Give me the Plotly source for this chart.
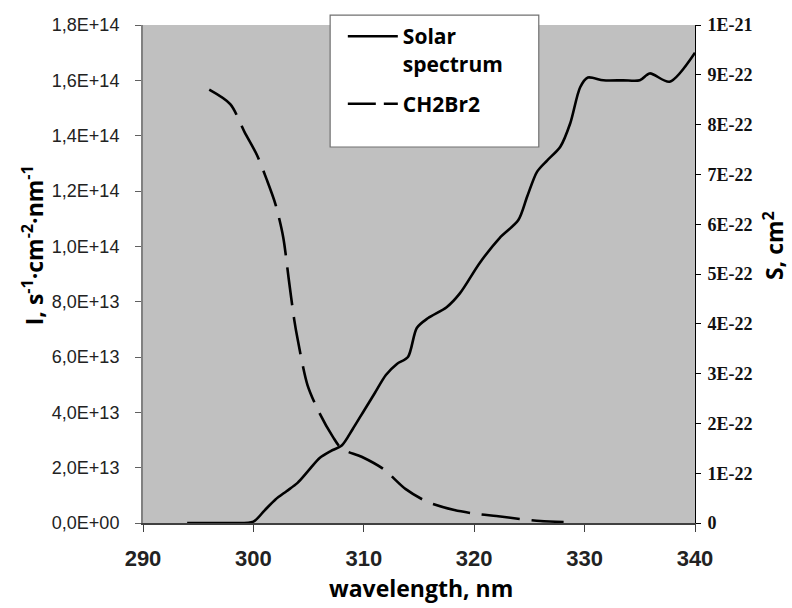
import plotly.graph_objects as go

# Solar spectrum (left axis), photons s^-1 cm^-2 nm^-1
solar_wl = [294, 296, 298, 300, 301, 302, 303, 304, 305, 306, 307, 308, 309, 310, 311, 312,
            313, 314, 314.8, 315.8, 317.5, 318.7, 320.5, 322.3, 324, 324.8, 325.7, 326.6,
            327.8, 328.7, 329.6, 330.3, 331.7, 333.5, 335, 335.9, 337.7, 340]
solar_val = [0, 0, 0, 0.05e13, 0.45e13, 0.85e13, 1.15e13, 1.45e13, 1.9e13, 2.35e13, 2.6e13,
             2.8e13, 3.4e13, 4.05e13, 4.7e13, 5.35e13, 5.75e13, 6.0e13, 7.05e13, 7.4e13,
             7.8e13, 8.3e13, 9.4e13, 10.3e13, 10.95e13, 11.8e13, 12.7e13, 13.1e13, 13.6e13,
             14.45e13, 15.75e13, 16.1e13, 16.0e13, 16.0e13, 16.0e13, 16.25e13, 15.95e13, 17.0e13]

# CH2Br2 absorption cross section (right axis), cm^2
ch2br2_wl = [296.0, 297.9, 299.2, 300.3, 301.2, 302.0, 302.7, 303.2, 303.7, 304.0, 304.9,
             306.0, 307.2, 308.0, 309.8, 311.8, 313.8, 315.8, 318.2, 320.3, 322.0, 324.2,
             326.0, 328.1]
ch2br2_val = [8.7e-22, 8.41e-22, 7.85e-22, 7.4e-22, 6.9e-22, 6.4e-22, 5.74e-22, 4.9e-22,
              4.08e-22, 3.7e-22, 2.77e-22, 2.2e-22, 1.73e-22, 1.49e-22, 1.33e-22, 1.08e-22,
              0.68e-22, 0.42e-22, 0.26e-22, 0.18e-22, 0.14e-22, 0.08e-22, 0.04e-22, 0.02e-22]

x_ticks = [290, 300, 310, 320, 330, 340]
y1_ticks = [0, 2e13, 4e13, 6e13, 8e13, 1e14, 1.2e14, 1.4e14, 1.6e14, 1.8e14]
y1_labels = ["0,0E+00", "2,0E+13", "4,0E+13", "6,0E+13", "8,0E+13", "1,0E+14",
             "1,2E+14", "1,4E+14", "1,6E+14", "1,8E+14"]
y2_ticks = [0, 1e-22, 2e-22, 3e-22, 4e-22, 5e-22, 6e-22, 7e-22, 8e-22, 9e-22, 1e-21]
y2_labels = ["0", "1E-22", "2E-22", "3E-22", "4E-22", "5E-22", "6E-22", "7E-22",
             "8E-22", "9E-22", "1E-21"]

title_font = dict(family="Open Sans", size=23, color="black", weight="bold")

fig = go.Figure()
fig.add_trace(go.Scatter(x=solar_wl, y=solar_val, mode="lines", name="Solar<br>spectrum",
                         legendgroup="a",
                         line=dict(color="black", width=2.6, shape="spline", smoothing=0.8)))
fig.add_trace(go.Scatter(x=ch2br2_wl, y=ch2br2_val, mode="lines", yaxis="y2", showlegend=False,
                         line=dict(color="black", width=2.6, dash="38px,12px", shape="spline",
                                   smoothing=0.8)))
# legend entry for dashed series with shorter dashes (no data points)
fig.add_trace(go.Scatter(x=[None], y=[None], mode="lines", yaxis="y2", name="CH2Br2",
                         legendgroup="b",
                         line=dict(color="black", width=2.6, dash="28px,8px")))

fig.update_layout(
    width=792, height=608,
    margin=dict(l=143, r=97, t=25, b=85),
    paper_bgcolor="white", plot_bgcolor="#C0C0C0",
    showlegend=True,
    legend=dict(x=0.362, y=1.018, xanchor="left", yanchor="top", bgcolor="rgba(0,0,0,0)",
                borderwidth=0, valign="top", itemwidth=50, tracegroupgap=10,
                font=dict(family="Open Sans", size=21, color="black", weight="bold")),
    xaxis=dict(range=[290, 340], tickvals=x_ticks, ticktext=[str(v) for v in x_ticks],
               showgrid=False, zeroline=False, showline=True, linecolor="#404040", linewidth=1.5,
               ticks="outside", ticklen=7, tickcolor="#404040", ticklabelstandoff=8,
               tickfont=dict(family="Liberation Sans", size=22, color="#222", weight="bold")),
    yaxis=dict(range=[0, 1.8e14], tickvals=y1_ticks, ticktext=y1_labels,
               showgrid=False, zeroline=False, showline=True, linecolor="#808080", linewidth=2,
               ticks="outside", ticklen=6, tickcolor="#606060", ticklabelstandoff=12,
               tickfont=dict(family="Liberation Sans", size=18, color="#222")),
    yaxis2=dict(range=[0, 1e-21], tickvals=y2_ticks, ticktext=y2_labels, overlaying="y",
                side="right", showgrid=False, zeroline=False, showline=True, linecolor="black",
                linewidth=1, ticks="outside", ticklen=5, tickcolor="black", ticklabelstandoff=3,
                tickfont=dict(family="Liberation Serif", size=18, color="#111", weight="bold")),
    shapes=[dict(type="rect", xref="paper", yref="paper", x0=0.339, x1=0.717, y0=0.755, y1=1.02,
                 fillcolor="white", line=dict(color="#707070", width=1.2), layer="above")],
    annotations=[
        dict(text="wavelength, nm", xref="paper", yref="paper", x=0.504, y=-0.1667,
             xanchor="center", yanchor="bottom", showarrow=False, font=title_font),
        dict(text="I, s<sup>-1</sup>·cm<sup>-2</sup>·nm<sup>-1</sup>", xref="paper",
             yref="paper", x=-0.199, y=0.558, xanchor="center", yanchor="middle",
             textangle=-90, showarrow=False, font=title_font),
        dict(text="S, cm<sup>2</sup>", xref="paper", yref="paper", x=1.143, y=0.558,
             xanchor="center", yanchor="middle", textangle=-90, showarrow=False,
             font=title_font),
    ],
)

fig.write_html("out.html")
